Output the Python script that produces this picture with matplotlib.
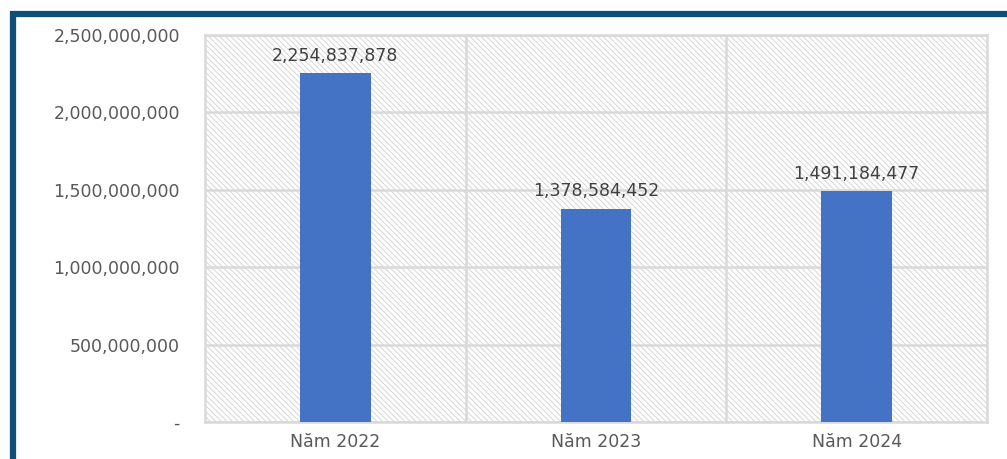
import matplotlib
matplotlib.use("Agg")
import matplotlib.pyplot as plt
from matplotlib.patches import Rectangle
from matplotlib.ticker import FuncFormatter

categories = ["Năm 2022", "Năm 2023", "Năm 2024"]
values = [2254837878, 1378584452, 1491184477]
y_ticks = [0, 500000000, 1000000000, 1500000000, 2000000000, 2500000000]

plt.rcParams['font.family'] = ['DejaVu Sans']
plt.rcParams['hatch.linewidth'] = 0.7

fig = plt.figure(figsize=(10.07, 4.59), dpi=100)
fig.patch.set_facecolor('white')

# dark blue frame around the chart (runs off the right and bottom edges)
frame = Rectangle((13 / 1007, -0.1), 1.2, 1 - 14.5 / 459 + 0.1, transform=fig.transFigure,
                  fill=False, edgecolor='#0e4f78', linewidth=4.5, zorder=0)
fig.add_artist(frame)

ax = fig.add_axes([205 / 1007, 1 - 422 / 459, (987 - 205) / 1007, (422 - 35) / 459])

# hatched plot background
bg = Rectangle((0, 0), 1, 1, transform=ax.transAxes, facecolor='white',
               edgecolor='#d6d6d6', hatch='\\\\\\\\\\\\', linewidth=0, zorder=0)
ax.add_patch(bg)

x = range(len(categories))
ax.bar(x, values, width=0.27, color='#4472C4', zorder=3)

for xi, v in zip(x, values):
    ax.annotate(f"{v:,}", (xi, v), xytext=(0, 6), textcoords='offset points',
                ha='center', va='bottom', fontsize=12.5, color='#404040', zorder=4)

ax.set_xlim(-0.5, 2.5)
ax.set_ylim(0, 2500000000)
ax.set_yticks(y_ticks)
ax.yaxis.set_major_formatter(FuncFormatter(lambda v, p: "-" if v == 0 else f"{int(v):,}"))
ax.set_xticks(list(x))
ax.set_xticklabels(categories)

# category boundaries as vertical grid lines
for b in [0.5, 1.5]:
    ax.axvline(b, color='#d9d9d9', linewidth=1.8, zorder=1)
ax.yaxis.grid(True, color='#d9d9d9', linewidth=1.8, zorder=1)
ax.set_axisbelow(True)

for s in ax.spines.values():
    s.set_color('#d9d9d9')
    s.set_linewidth(1.8)

ax.tick_params(axis='both', length=0, colors='#595959', labelsize=12.5)
ax.tick_params(axis='y', pad=18)
ax.tick_params(axis='x', pad=8)

fig.savefig("out.png", dpi=100)
